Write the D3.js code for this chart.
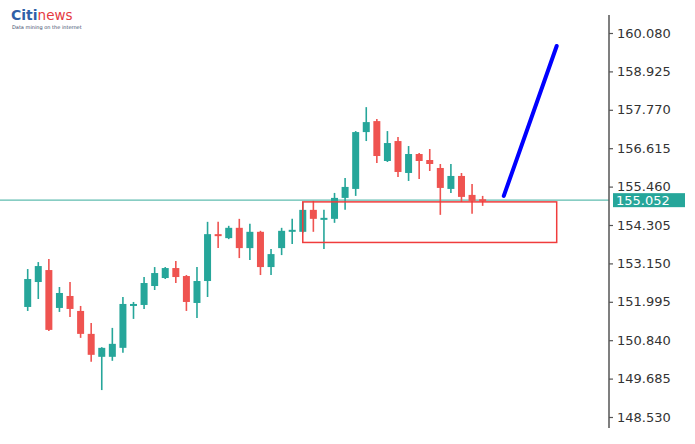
<!DOCTYPE html>
<html>
<head>
<meta charset="utf-8">
<script src="https://cdn.jsdelivr.net/npm/d3@7"></script>
<style>
  html, body { margin: 0; padding: 0; background: #ffffff; }
  svg { display: block; }
</style>
</head>
<body>
<svg id="chart" width="695" height="444"></svg>
<script>
// ---- data ----
const opens  = [151.84,152.59,152.95,151.81,152.17,151.72,151.03,150.34,150.34,150.61,151.87,151.90,152.47,152.71,153.01,152.77,151.96,152.62,154.03,153.91,154.22,153.61,154.10,153.04,153.61,154.10,154.10,154.76,154.46,154.49,155.12,155.39,157.10,157.43,156.23,156.83,155.87,156.44,156.26,156.02,155.39,155.78,155.21,155.08];
const highs  = [152.98,153.19,153.28,152.44,152.59,151.87,151.36,150.63,151.21,152.14,151.99,152.74,153.04,153.04,153.22,152.80,153.04,154.40,154.40,154.28,154.49,154.34,154.13,153.58,154.22,154.49,155.00,155.03,154.76,155.27,155.72,157.13,157.85,157.49,157.13,156.95,156.68,156.47,156.59,156.14,156.14,155.87,155.54,155.18];
const lows   = [151.72,152.08,151.12,151.69,151.54,150.91,150.19,149.34,150.22,150.46,151.48,151.78,152.35,152.68,152.56,151.72,151.51,152.14,153.61,153.88,153.31,153.25,152.80,152.80,153.40,153.73,154.07,154.10,153.58,154.37,154.76,155.18,156.83,156.17,156.20,155.75,155.63,155.69,155.93,154.61,155.27,155.00,154.64,154.88];
const closes = [152.68,153.07,151.15,152.26,151.78,151.03,150.40,150.61,150.73,151.93,151.93,152.56,152.86,153.01,152.74,151.99,152.62,154.03,153.97,154.22,153.61,154.10,153.04,153.43,154.13,154.16,154.76,154.49,154.52,155.12,155.45,157.10,157.40,156.38,156.77,155.90,156.44,156.23,156.14,155.42,155.78,155.15,155.03,155.05];
const tickValues = [160.080,158.925,157.770,156.615,155.460,154.305,153.150,151.995,150.840,149.685,148.530];
const currentPrice = 155.052;
const zoneIdx = [26, 50];          // rectangle span (bar index)
const zonePrices = [155.00, 153.78];
const arrowIdx = [45, 50];          // blue projection line
const arrowPrices = [155.18, 159.69];

// ---- layout ----
const axisX = 609;
const svg = d3.select("#chart");
const green = "#26a69a", red = "#ef5350";

const x = d3.scaleLinear().domain([0, 50]).range([27.7, 556.7]);
const y = d3.scaleLinear().domain([148.53, 160.08]).range([417, 33]);

const candles = opens.map((o, i) => ({ i, o, h: highs[i], l: lows[i], c: closes[i] }));

// current price line
svg.append("line")
  .attr("x1", 0).attr("x2", axisX)
  .attr("y1", y(currentPrice)).attr("y2", y(currentPrice))
  .attr("stroke", "#5fbcaf").attr("stroke-width", 1.1);

// candles
const g = svg.append("g");
g.selectAll("line.wick").data(candles).enter().append("line")
  .attr("class", "wick")
  .attr("x1", d => x(d.i)).attr("x2", d => x(d.i))
  .attr("y1", d => y(d.h)).attr("y2", d => y(d.l))
  .attr("stroke", d => d.c >= d.o ? green : red)
  .attr("stroke-width", 1.6);
const bw = 7;
g.selectAll("rect.body").data(candles).enter().append("rect")
  .attr("class", "body")
  .attr("x", d => x(d.i) - bw / 2)
  .attr("width", bw)
  .attr("y", d => y(Math.max(d.o, d.c)))
  .attr("height", d => Math.max(2, Math.abs(y(d.o) - y(d.c))))
  .attr("fill", d => d.c >= d.o ? green : red);

// zone rectangle
svg.append("rect")
  .attr("x", x(zoneIdx[0])).attr("y", y(zonePrices[0]))
  .attr("width", x(zoneIdx[1]) - x(zoneIdx[0]))
  .attr("height", y(zonePrices[1]) - y(zonePrices[0]))
  .attr("fill", "none").attr("stroke", "#f03c3c").attr("stroke-width", 1.5);

// blue projection line
svg.append("line")
  .attr("x1", x(arrowIdx[0])).attr("y1", y(arrowPrices[0]))
  .attr("x2", x(arrowIdx[1])).attr("y2", y(arrowPrices[1]))
  .attr("stroke", "#0000ff").attr("stroke-width", 4).attr("stroke-linecap", "round");

// axis
svg.append("line")
  .attr("x1", axisX).attr("x2", axisX).attr("y1", 15).attr("y2", 428)
  .attr("stroke", "#555").attr("stroke-width", 1.5);
const axis = d3.axisRight(y).tickValues(tickValues).tickSize(4).tickPadding(4).tickFormat(d3.format(".3f"));
const ag = svg.append("g").attr("transform", `translate(${axisX},0)`).call(axis);
ag.select(".domain").remove();
ag.selectAll(".tick line").attr("stroke", "#555").attr("stroke-width", 1.2);
ag.selectAll(".tick text")
  .attr("fill", "#333")
  .style("font-family", "'DejaVu Sans', Verdana, sans-serif")
  .style("font-size", "13px");

// current price label
const lbl = svg.append("g").attr("transform", `translate(${axisX + 4},${y(currentPrice)})`);
lbl.append("rect").attr("x", 0).attr("y", -7).attr("width", 72).attr("height", 14).attr("fill", green);
lbl.append("text").attr("x", 3).attr("y", 0).attr("dy", "0.36em")
  .attr("fill", "#ffffff")
  .style("font-family", "'DejaVu Sans', Verdana, sans-serif")
  .style("font-size", "13px")
  .text(d3.format(".3f")(currentPrice));

// logo
const logo = svg.append("g").attr("transform", "translate(11,20)");
const lt = logo.append("text").style("font-family", "'DejaVu Sans', Arial, sans-serif").style("font-weight", "bold");
lt.append("tspan").attr("fill", "#2f5fa8").style("font-size", "14px").text("Citi");
lt.append("tspan").attr("fill", "#e5393f").style("font-size", "13.5px").style("font-weight", "normal").text("news");
logo.append("text").attr("x", 1).attr("y", 8.5).attr("fill", "#3b4a6b")
  .style("font-family", "'DejaVu Sans', Arial, sans-serif").style("font-size", "5px")
  .text("Data mining on the internet");
</script>
</body>
</html>
